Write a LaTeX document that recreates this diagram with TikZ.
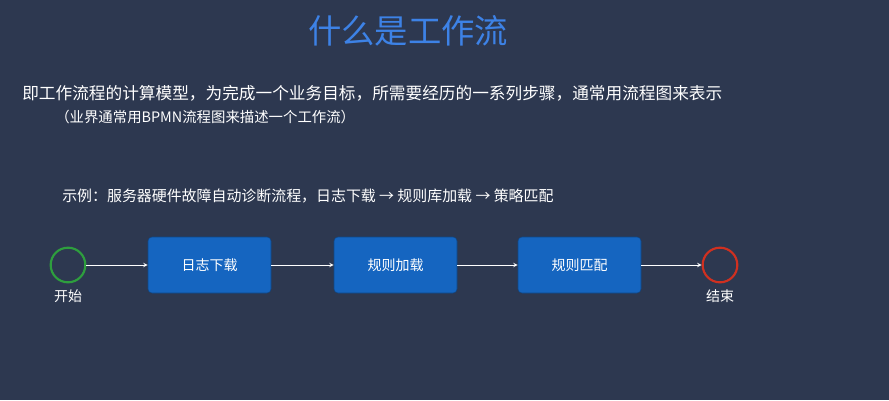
\documentclass[tikz,border=0pt]{standalone}
\usepackage{fontspec}
\newfontfamily\cjk{Noto Sans CJK SC}
\usetikzlibrary{positioning,arrows}
\definecolor{bgnavy}{HTML}{2D3850}
\definecolor{titleblue}{HTML}{3D82E6}
\definecolor{stepblue}{HTML}{1565C0}
\definecolor{startgreen}{HTML}{2E9E3E}
\definecolor{endred}{HTML}{D03020}
\tikzset{
  stepbox/.style={draw=stepblue!70!black, fill=stepblue, rounded corners=3pt,
    minimum width=92.25pt, minimum height=42pt, text=white, font=\cjk\fontsize{10.5}{12}\selectfont},
  event/.style={circle, line width=1.6pt, fill=bgnavy, minimum size=26pt, inner sep=0pt},
  flow/.style={->, >=stealth, white, line width=0.5pt},
  txt/.style={text=white, anchor=west, inner sep=0pt}
}
\begin{document}
\begin{tikzpicture}[x=0.75pt,y=-0.75pt]
  \fill[bgnavy] (0,0) rectangle (889,400);
  % title and text
  \node[text=titleblue, font=\cjk\fontsize{25}{30}\selectfont] (title) at (408,31) {什么是工作流};
  \node[txt, font=\cjk\fontsize{12.5}{14}\selectfont] (line1) at (22,93) {即工作流程的计算模型，为完成一个业务目标，所需要经历的一系列步骤，通常用流程图来表示};
  \node[txt, font=\cjk\fontsize{10.8}{12}\selectfont] (line2) at (55,117) {（业界通常用BPMN流程图来描述一个工作流）};
  \node[txt, font=\cjk\fontsize{11.2}{12}\selectfont] (line3) at (62,196) {示例：服务器硬件故障自动诊断流程，日志下载 → 规则库加载 → 策略匹配};
  % flow
  \node[event, draw=startgreen] (start) at (68,265) {};
  \node[stepbox] (download) at (209.5,265) {日志下载};
  \node[stepbox] (load) at (395.5,265) {规则加载};
  \node[stepbox] (match) at (579.5,265) {规则匹配};
  \node[event, draw=endred] (stop) at (720,265) {};
  \node[text=white, font=\cjk\fontsize{10.5}{12}\selectfont, below=1pt of start] (startlbl) {开始};
  \node[text=white, font=\cjk\fontsize{10.5}{12}\selectfont, below=1pt of stop] (stoplbl) {结束};
  \draw[flow] (start) -- (download);
  \draw[flow] (download) -- (load);
  \draw[flow] (load) -- (match);
  \draw[flow] (match) -- (stop);
\end{tikzpicture}
\end{document}
